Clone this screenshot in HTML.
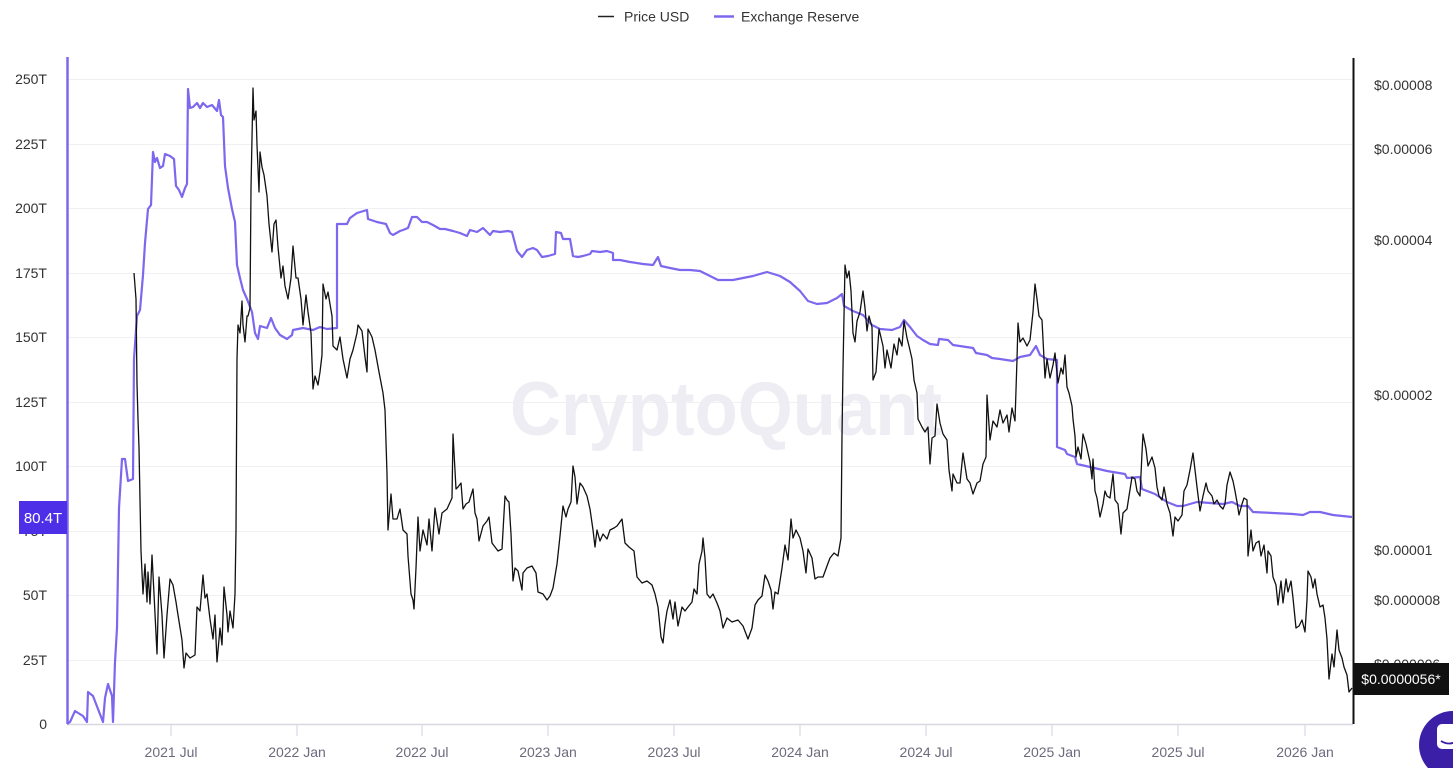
<!DOCTYPE html>
<html>
<head>
<meta charset="utf-8">
<style>
html,body{margin:0;padding:0;background:#fff;}
svg{display:block;}
text{font-family:"Liberation Sans",Arial,sans-serif;}
</style>
</head>
<body>
<svg width="1453" height="768" viewBox="0 0 1453 768" xmlns="http://www.w3.org/2000/svg">
<rect width="1453" height="768" fill="#fff"/>

<!-- legend -->
<line x1="598" y1="16.5" x2="614" y2="16.5" stroke="#222" stroke-width="1.5"/>
<text x="624" y="21.5" font-size="14" fill="#333">Price USD</text>
<line x1="714" y1="16.5" x2="734" y2="16.5" stroke="#7b68ee" stroke-width="2.5"/>
<text x="741" y="21.5" font-size="14" fill="#333">Exchange Reserve</text>

<!-- gridlines -->
<g stroke="#f0f0f3" stroke-width="1">
<line x1="67" y1="79.5" x2="1353" y2="79.5"/>
<line x1="67" y1="144.5" x2="1353" y2="144.5"/>
<line x1="67" y1="208.5" x2="1353" y2="208.5"/>
<line x1="67" y1="273.5" x2="1353" y2="273.5"/>
<line x1="67" y1="337.5" x2="1353" y2="337.5"/>
<line x1="67" y1="402.5" x2="1353" y2="402.5"/>
<line x1="67" y1="466.5" x2="1353" y2="466.5"/>
<line x1="67" y1="531.5" x2="1353" y2="531.5"/>
<line x1="67" y1="595.5" x2="1353" y2="595.5"/>
<line x1="67" y1="660.5" x2="1353" y2="660.5"/>
</g>

<!-- watermark -->
<text x="510" y="435" font-size="76" font-weight="bold" fill="#eeedf3" textLength="432" lengthAdjust="spacingAndGlyphs">CryptoQuant</text>

<!-- x axis -->
<line x1="67" y1="724.5" x2="1353" y2="724.5" stroke="#d8d8e2" stroke-width="1.5"/>
<g stroke="#d8d8e2" stroke-width="1.2">
<line x1="171" y1="724" x2="171" y2="736"/>
<line x1="297" y1="724" x2="297" y2="736"/>
<line x1="422" y1="724" x2="422" y2="736"/>
<line x1="548" y1="724" x2="548" y2="736"/>
<line x1="674" y1="724" x2="674" y2="736"/>
<line x1="800" y1="724" x2="800" y2="736"/>
<line x1="926" y1="724" x2="926" y2="736"/>
<line x1="1052" y1="724" x2="1052" y2="736"/>
<line x1="1178" y1="724" x2="1178" y2="736"/>
<line x1="1305" y1="724" x2="1305" y2="736"/>
</g>
<g font-size="14" fill="#6b6b7d" text-anchor="middle">
<text x="171" y="757">2021 Jul</text>
<text x="297" y="757">2022 Jan</text>
<text x="422" y="757">2022 Jul</text>
<text x="548" y="757">2023 Jan</text>
<text x="674" y="757">2023 Jul</text>
<text x="800" y="757">2024 Jan</text>
<text x="926" y="757">2024 Jul</text>
<text x="1052" y="757">2025 Jan</text>
<text x="1178" y="757">2025 Jul</text>
<text x="1305" y="757">2026 Jan</text>
</g>

<!-- left axis labels -->
<g font-size="14" fill="#333" text-anchor="end">
<text x="47" y="84">250T</text>
<text x="47" y="149">225T</text>
<text x="47" y="213">200T</text>
<text x="47" y="278">175T</text>
<text x="47" y="342">150T</text>
<text x="47" y="407">125T</text>
<text x="47" y="471">100T</text>
<text x="47" y="536">75T</text>
<text x="47" y="600">50T</text>
<text x="47" y="665">25T</text>
<text x="47" y="729">0</text>
</g>

<!-- right axis labels -->
<g font-size="14" fill="#333">
<text x="1374" y="90">$0.00008</text>
<text x="1374" y="154">$0.00006</text>
<text x="1374" y="245">$0.00004</text>
<text x="1374" y="400">$0.00002</text>
<text x="1374" y="555">$0.00001</text>
<text x="1374" y="605">$0.000008</text>
<text x="1374" y="669">$0.000006</text>
</g>

<!-- Exchange Reserve -->
<polyline fill="none" stroke="#7b68ee" stroke-width="2.2" stroke-linejoin="round" points="67,724 70,722 75,711 83,716 87,722 88,692 93,696 103,722 105,698 108,684 112,696 113,722 115,662 117,628 119,508 122,459 125,459 128,481 133,479 134,359 137,316 140,310 143,275 145,243 148,209 151,205 153,152 155,162 157,158 160,168 163,166 165,154 170,156 174,159 176,186 179,190 182,197 185,188 187,184 188,89 190,108 193,107 197,103 200,108 203,103 207,107 212,105 217,111 219,100 221,115 223,117 225,166 228,188 232,209 235,222 237,265 240,278 243,290 247,299 252,312 255,333 258,339 260,326 267,328 271,318 275,328 280,335 287,339 292,335 293,330 303,328 313,330 320,327 327,329 337,328 337,224 347,224 350,218 357,213 367,210 368,219 377,222 386,224 390,233 393,235 400,231 403,230 408,228 412,217 417,217 422,222 427,222 433,225 440,229 445,229 453,231 460,233 467,236 470,230 477,232 483,228 490,235 493,231 500,232 508,231 512,232 517,251 522,257 527,250 533,248 537,250 542,257 548,256 555,254 556,232 561,233 563,239 570,239 573,256 578,257 583,256 590,254 592,251 600,252 607,251 613,253 613,260 620,260 630,262 643,264 653,265 658,257 661,266 670,268 680,270 690,270 700,271 710,276 718,280 733,280 753,276 767,272 780,276 790,282 800,291 808,301 817,304 827,303 837,298 842,294 844,306 853,311 863,315 872,325 880,329 892,330 900,327 904,320 910,327 917,336 923,340 930,344 938,345 939,339 948,340 953,345 973,348 976,353 987,355 992,358 1000,359 1013,361 1020,357 1030,355 1036,346 1040,355 1047,359 1057,360 1057,447 1065,450 1067,454 1075,457 1077,464 1090,467 1107,471 1125,474 1127,478 1140,477 1142,489 1155,494 1167,502 1177,506 1183,506 1197,502 1210,503 1223,504 1232,502 1240,506 1248,506 1253,512 1273,513 1293,514 1303,515 1310,512 1320,512 1333,515 1352,517"/>

<!-- Price USD -->
<polyline fill="none" stroke="#111" stroke-width="1.3" stroke-linejoin="round" points="134,273 136,299 137,384 138,419 139,448 141,551 143,594 145,564 147,602 148,572 150,604 152,555 154,594 157,654 159,577 162,615 164,658 167,615 170,579 173,585 176,602 178,615 182,640 184,668 186,653 190,658 195,655 197,607 200,611 203,575 205,598 207,594 210,619 213,639 215,615 217,662 220,628 222,645 224,587 227,615 228,632 230,611 233,628 235,594 236,530 237,359 238,325 240,333 242,301 243,325 245,342 247,316 248,316 250,308 251,188 253,88 254,120 256,111 257,145 259,192 260,152 262,167 264,175 267,196 269,224 272,252 274,224 276,220 278,247 281,278 283,266 285,286 288,299 291,278 293,246 296,278 298,278 301,299 303,325 306,295 308,312 311,333 313,389 315,376 318,385 320,372 322,355 323,284 326,299 328,292 332,316 333,346 337,350 340,337 343,359 347,378 350,359 353,350 357,333 358,325 362,331 365,357 367,372 368,329 372,337 375,350 379,372 383,393 385,410 387,474 388,530 391,494 393,519 397,519 400,509 403,530 407,534 408,556 411,594 413,600 414,609 416,568 418,517 420,551 423,530 427,545 429,519 432,551 435,508 439,534 442,513 447,509 452,498 453,434 456,489 458,487 461,483 463,509 466,504 469,502 473,489 475,513 477,519 479,541 483,526 487,521 489,517 492,543 495,547 498,551 502,549 505,496 507,500 509,502 511,534 513,581 515,568 518,571 522,590 523,573 527,568 532,566 536,573 538,592 543,594 547,600 550,596 553,588 557,564 560,536 563,506 566,517 568,509 571,502 573,466 575,477 577,504 580,483 583,487 587,496 590,509 593,530 595,547 597,530 600,541 603,534 607,539 610,530 614,528 617,526 622,519 625,543 629,547 634,551 637,577 642,583 647,581 652,585 655,594 658,607 661,637 663,643 665,624 667,611 670,600 673,619 675,602 678,626 682,607 685,611 688,607 692,602 694,589 697,594 699,564 702,551 703,538 705,558 707,594 710,598 713,594 717,603 720,611 723,628 727,618 732,622 738,620 743,626 748,639 752,628 755,605 758,600 762,596 765,575 768,581 771,590 773,609 775,592 778,594 782,568 785,545 788,560 791,519 793,538 796,530 800,538 803,551 806,573 808,549 812,558 815,579 818,577 823,577 827,566 830,558 834,553 838,556 841,538 842,436 843,368 845,265 847,278 849,271 851,291 853,333 855,342 857,321 860,312 863,291 865,308 867,331 869,316 872,327 873,380 876,372 879,329 883,346 885,368 887,350 891,368 894,344 897,355 899,338 902,346 904,321 907,338 909,346 912,359 914,380 917,393 918,419 922,427 925,432 928,427 930,464 932,438 935,436 937,404 940,423 943,434 947,440 949,470 952,491 953,474 957,483 960,483 963,453 967,479 970,483 973,494 977,483 980,481 983,464 986,457 987,395 990,440 993,421 997,427 1000,410 1003,423 1007,415 1009,432 1012,408 1015,421 1017,359 1018,323 1020,342 1023,338 1027,346 1030,340 1033,312 1035,284 1037,299 1039,316 1042,320 1045,378 1047,359 1050,378 1053,365 1055,353 1058,383 1061,368 1063,374 1065,355 1067,387 1069,393 1072,406 1073,419 1075,436 1076,457 1078,447 1081,459 1083,434 1086,444 1088,453 1090,462 1092,479 1093,459 1095,491 1097,498 1100,517 1103,504 1105,491 1107,496 1110,498 1113,474 1115,500 1118,504 1121,534 1123,513 1127,509 1129,496 1132,477 1135,479 1137,491 1140,496 1142,453 1143,434 1146,449 1148,466 1152,457 1155,468 1157,487 1159,496 1162,500 1164,487 1167,504 1170,513 1173,536 1175,517 1178,521 1182,515 1184,491 1187,485 1190,470 1193,453 1195,470 1197,487 1200,511 1203,496 1206,483 1208,491 1212,496 1214,504 1217,500 1220,506 1223,509 1225,504 1227,485 1230,472 1233,481 1235,491 1237,502 1239,515 1242,504 1244,498 1247,500 1248,556 1251,530 1253,551 1256,543 1259,541 1261,556 1264,545 1267,573 1268,551 1271,556 1273,577 1276,585 1278,605 1281,581 1283,603 1286,579 1288,592 1291,581 1293,598 1296,628 1299,626 1302,620 1305,632 1307,600 1308,571 1311,577 1313,588 1315,579 1317,594 1320,607 1323,605 1325,618 1327,639 1329,679 1332,654 1334,667 1337,630 1339,650 1342,658 1344,667 1347,675 1349,692 1352,688"/>

<!-- axis lines -->
<line x1="67.5" y1="57" x2="67.5" y2="724" stroke="#7b68ee" stroke-width="2.5"/>
<line x1="1353.5" y1="58" x2="1353.5" y2="724" stroke="#111" stroke-width="2"/>

<!-- value labels -->
<rect x="19" y="501" width="48" height="33" fill="#4c2fe6"/>
<text x="43" y="523" font-size="15" fill="#fff" text-anchor="middle">80.4T</text>
<rect x="1354" y="663" width="95" height="32" fill="#111"/>
<text x="1401" y="684" font-size="14" fill="#fff" text-anchor="middle">$0.0000056*</text>

<!-- chat bubble -->
<circle cx="1453" cy="745" r="34" fill="#3b1fa6"/>
<rect x="1437" y="724" width="26" height="25" rx="5" fill="#fff"/>
<path d="M1441 741 Q1449 746 1457 741" fill="none" stroke="#3b1fa6" stroke-width="1.8"/>
</svg>
</body>
</html>
